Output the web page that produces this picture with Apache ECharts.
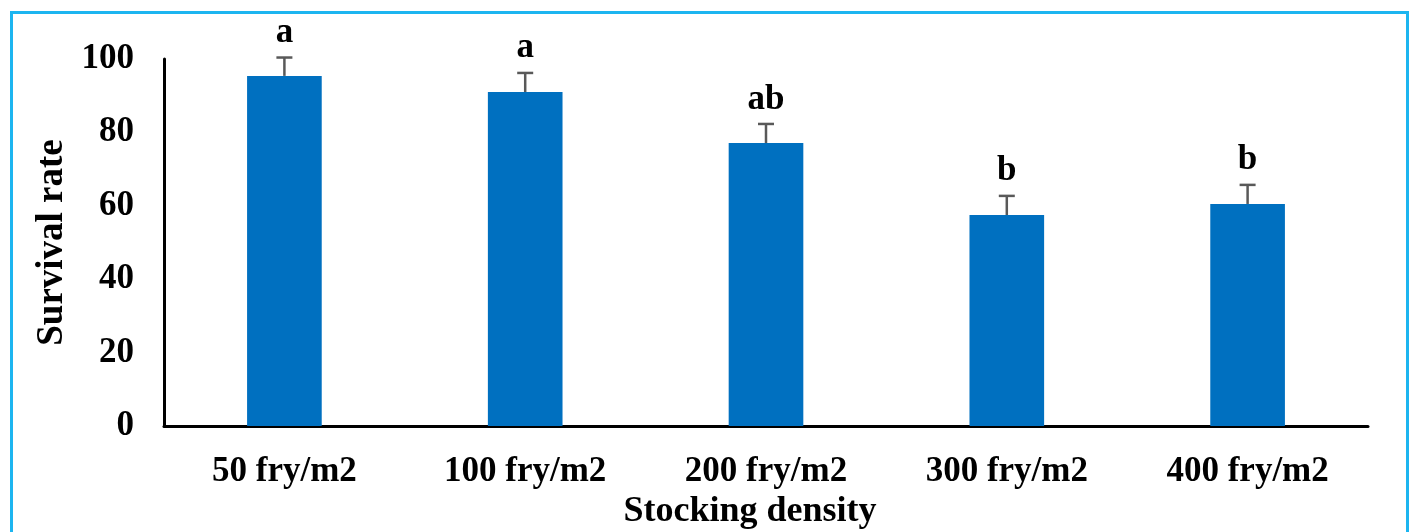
<!DOCTYPE html>
<html>
<head>
<meta charset="utf-8">
<script src="https://cdn.jsdelivr.net/npm/echarts@6/dist/echarts.min.js"></script>
<style>
html,body{margin:0;padding:0;background:#fff;}
#frame{position:absolute;left:10px;top:11px;width:1399px;height:540px;border:3px solid #1CB5F0;box-sizing:border-box;}
#chart{position:absolute;left:0;top:0;width:1416px;height:532px;}
</style>
</head>
<body>
<div id="frame"></div>
<div id="chart"></div>
<script>
const categories = ['50 fry/m2', '100 fry/m2', '200 fry/m2', '300 fry/m2', '400 fry/m2'];
const survival = [95.4, 91.0, 77.1, 57.5, 60.5];
const errors = [5.0, 5.2, 5.2, 5.2, 5.2];
const letters = ['a', 'a', 'ab', 'b', 'b'];
const yTicks = [0, 20, 40, 60, 80, 100];

const FONT = '"Liberation Serif", "Times New Roman", serif';
const chart = echarts.init(document.getElementById('chart'));
chart.setOption({
  animation: false,
  grid: { left: 164, right: 48, top: 59, bottom: 106, containLabel: false, outerBoundsMode: 'none' },
  xAxis: {
    type: 'category',
    data: categories,
    axisLine: { lineStyle: { color: '#000', width: 3 } },
    axisTick: { show: false },
    axisLabel: { color: '#000', fontFamily: FONT, fontWeight: 'bold', fontSize: 35, margin: 28 },
    name: 'Stocking density',
    nameLocation: 'middle',
    nameGap: 58,
    nameTextStyle: { color: '#000', fontFamily: FONT, fontWeight: 'bold', fontSize: 36, padding: [0, 32, 0, 0] }
  },
  yAxis: {
    type: 'value',
    min: yTicks[0],
    max: yTicks[yTicks.length - 1],
    interval: 20,
    axisLine: { show: true, lineStyle: { color: '#000', width: 3 } },
    axisTick: { show: false },
    splitLine: { show: false },
    axisLabel: { color: '#000', fontFamily: FONT, fontWeight: 'bold', fontSize: 35, margin: 30 },
    name: 'Survival rate',
    nameLocation: 'middle',
    nameRotate: 90,
    nameGap: 87,
    nameTextStyle: { color: '#000', fontFamily: FONT, fontWeight: 'bold', fontSize: 37 }
  },
  series: [
    {
      type: 'bar',
      data: survival,
      barWidth: '31%',
      itemStyle: { color: '#0070C0' },
      z: 2
    },
    {
      type: 'custom',
      z: 3,
      data: survival.map((v, i) => [i, v, errors[i]]),
      renderItem: function (params, api) {
        const x = api.value(0);
        const v = api.value(1);
        const e = api.value(2);
        const base = api.coord([x, v]);
        const top = api.coord([x, v + e]);
        const cap = 8;
        const idx = params.dataIndex;
        return {
          type: 'group',
          children: [
            { type: 'line', shape: { x1: base[0], y1: base[1], x2: top[0], y2: top[1] },
              style: { stroke: '#595959', lineWidth: 2.5 } },
            { type: 'line', shape: { x1: top[0] - cap, y1: top[1], x2: top[0] + cap, y2: top[1] },
              style: { stroke: '#595959', lineWidth: 2.5 } },
            { type: 'text', x: top[0], y: top[1] - 7,
              style: { text: letters[idx], fill: '#000', font: 'bold 35px ' + FONT,
                       textAlign: 'center', textVerticalAlign: 'bottom' } }
          ]
        };
      }
    }
  ]
});
</script>
</body>
</html>
